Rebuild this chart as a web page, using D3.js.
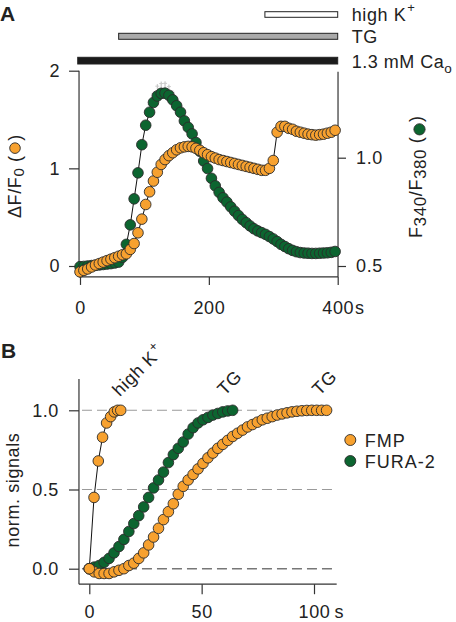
<!DOCTYPE html>
<html><head><meta charset="utf-8">
<script src="https://cdn.jsdelivr.net/npm/d3@7/dist/d3.min.js"></script>
<style>
html,body{margin:0;padding:0;background:#fff;}
svg{display:block;font-family:"Liberation Sans",Arial,Helvetica,sans-serif;}
text{fill:#222;}
</style></head>
<body>
<svg id="chart" width="456" height="622"></svg>
<script>
// ---------- Panel A data ----------
const timeA = [0,6,12,18,24,30,36,42,48,54,60,66,72,78,84,90,96,102,108,114,120,126,132,138,144,150,156,162,168,174,180,186,192,198,204,210,216,222,228,234,240,246,252,258,264,270,276,282,288,294,300,306,312,318,324,330,336,342,348,354,360,366,372,378,384,390,396];
const fmpA = [-0.06,-0.045,-0.03,-0.01,0.01,0.025,0.04,0.055,0.07,0.085,
  0.10,0.115,0.125,0.17,0.23,0.34,0.48,0.63,0.76,0.87,
  0.96,1.04,1.09,1.13,1.16,1.19,1.21,1.22,1.225,1.22,
  1.205,1.185,1.16,1.14,1.12,1.105,1.09,1.08,1.07,1.06,
  1.05,1.04,1.03,1.02,1.01,1.00,0.99,0.98,0.98,1.00,
  1.08,1.37,1.43,1.43,1.41,1.40,1.38,1.37,1.36,1.35,
  1.345,1.34,1.345,1.35,1.36,1.37,1.39];
const furaA = [0.497,0.498,0.500,0.502,0.503,0.505,0.507,0.509,0.511,0.514,
  0.518,0.54,0.60,0.69,0.81,0.93,1.06,1.15,1.21,1.255,
  1.285,1.297,1.298,1.288,1.267,1.24,1.21,1.17,1.14,1.11,
  1.07,1.03,0.985,0.95,0.905,0.87,0.84,0.815,0.795,0.773,
  0.753,0.733,0.715,0.70,0.685,0.672,0.662,0.654,0.646,0.636,
  0.625,0.613,0.60,0.59,0.58,0.572,0.566,0.562,0.56,0.559,
  0.558,0.558,0.559,0.56,0.561,0.563,0.567];
const furaErrT = [108,114,120,126,132,138,144,150];
const furaErrV = [0.02,0.025,0.03,0.03,0.03,0.025,0.02,0.015];
const ticksAx = [0,200,400];
const ticksAL = [0,1,2];
const ticksAR = [0.5,1.0];
const barLabels = ["high K", "TG", "1.3 mM Ca"];
const barStart = [287, 60, -3.5];
const barEnd = [400, 400, 400];

// ---------- Panel B data ----------
const hkT = [0,2.1,4.0,5.9,7.7,9.5,11.1,12.6,14.0];
const hkV = [0.0,0.45,0.68,0.83,0.92,0.96,0.99,1.0,1.0];
const fmpT = [0,2.2,4.4,6.6,8.8,11,13.2,15.4,17.6,19.8,22,24.2,26.4,28.6,30.8,33,35.2,37.4,39.6,41.8,44,46.2,48.4,50.6,52.8,55,57.2,59.4,61.6,63.8,66,68.2,70.4,72.6,74.8,77,79.2,81.4,83.6,85.8,88,90.2,92.4,94.6,96.8,99,101.2,103.4,105.6];
const fmpB = [0.0,-0.02,-0.03,-0.03,-0.03,-0.02,-0.01,0.0,0.02,0.035,
  0.065,0.10,0.15,0.20,0.255,0.31,0.36,0.41,0.47,0.52,
  0.56,0.595,0.63,0.665,0.70,0.73,0.76,0.785,0.81,0.835,
  0.855,0.875,0.895,0.91,0.925,0.94,0.95,0.96,0.97,0.977,
  0.984,0.99,0.994,0.997,0.999,1.0,1.0,1.0,1.0];
const furaT = [0,2.2,4.4,6.6,8.8,11,13.2,15.4,17.6,19.8,22,24.2,26.4,28.6,30.8,33,35.2,37.4,39.6,41.8,44,46.2,48.4,50.6,52.8,55,57.2,59.4,61.6,63.8];
const furaB = [0.0,0.01,0.02,0.04,0.065,0.10,0.14,0.185,0.235,0.285,
  0.335,0.39,0.45,0.51,0.56,0.61,0.67,0.72,0.76,0.80,
  0.85,0.89,0.92,0.94,0.955,0.97,0.98,0.99,0.996,1.0];
const ticksBx = [0,50,100];
const ticksBy = [0,0.5,1.0];
const legendLabels = ["FMP","FURA-2"];

// ---------- styling ----------
const ORANGE = "#F7A12F", GREEN = "#0C6530", STROKE = "#2b2b2b", AX = "#333";
const FS = 18, LS = 0.6, R = 5.3;

const svg = d3.select("#chart");

function styleText(sel, size){ return sel.attr("font-size", size||FS).attr("letter-spacing", LS).attr("fill","#222"); }

function dots(g, xs, ys, xScale, yScale, color, withLine){
  const pts = xs.map((x,i)=>[x, ys[i]]);
  if (withLine) {
    g.append("path").datum(pts)
      .attr("fill","none").attr("stroke","#111").attr("stroke-width",1)
      .attr("d", d3.line().x(d=>xScale(d[0])).y(d=>yScale(d[1])));
  }
  g.selectAll(null).data(pts).enter().append("circle")
    .attr("cx", d=>xScale(d[0])).attr("cy", d=>yScale(d[1])).attr("r", R)
    .attr("fill", color).attr("stroke", STROKE).attr("stroke-width", 0.9);
}

function styleAxis(g){
  g.select(".domain").remove();
  g.selectAll(".tick line").attr("stroke", AX).attr("stroke-width", 1.2);
  g.selectAll(".tick text").attr("font-size", FS).attr("letter-spacing", LS).attr("fill", "#222")
    .attr("font-family", '"Liberation Sans",Arial,sans-serif');
}
// append a unit to the last tick label while keeping the number centred on its tick
function addUnit(axisG, value, unit, gap){
  const t = axisG.selectAll(".tick").filter(d=>d===value).select("text");
  const w = t.node().getComputedTextLength();
  t.attr("text-anchor","start").attr("x", -w/2);
  t.append("tspan").attr("dx", gap).text(unit);
}

// ================= PANEL A =================
const xA = d3.scaleLinear().domain([0,400]).range([80,337.7]);
const yL = d3.scaleLinear().domain([0,2]).range([266,70.7]);
const yR = d3.scaleLinear().domain([0.5,1.0]).range([266,157.7]);
const gA = svg.append("g");

const axA_bottom = yL(-0.112), axA_left = xA(-1.5), axA_right = xA(400.5);
gA.append("line").attr("x1",axA_left).attr("x2",axA_left).attr("y1",yL(2)).attr("y2",axA_bottom).attr("stroke",AX).attr("stroke-width",1.2);
gA.append("line").attr("x1",axA_left).attr("x2",axA_right).attr("y1",axA_bottom).attr("y2",axA_bottom).attr("stroke",AX).attr("stroke-width",1.2);
gA.append("line").attr("x1",axA_right).attr("x2",axA_right).attr("y1",yR(1.397)).attr("y2",axA_bottom).attr("stroke",AX).attr("stroke-width",1.2);

const axL = gA.append("g").attr("transform",`translate(${axA_left},0)`)
  .call(d3.axisLeft(yL).tickValues(ticksAL).tickSize(10).tickPadding(9).tickFormat(d3.format("d")));
styleAxis(axL);
const axR = gA.append("g").attr("transform",`translate(${axA_right},0)`)
  .call(d3.axisRight(yR).tickValues(ticksAR).tickSize(8).tickPadding(10).tickFormat(d3.format(".1f")));
styleAxis(axR);
const axB = gA.append("g").attr("transform",`translate(0,${axA_bottom})`)
  .call(d3.axisBottom(xA).tickValues(ticksAx).tickSize(8).tickPadding(16).tickFormat(d3.format("d")));
styleAxis(axB);
addUnit(axB, 400, "s", 1);

// error whiskers at the FURA-2 peak
const errG = gA.append("g");
furaErrT.forEach((t,i)=>{
  const v = furaA[timeA.indexOf(t)];
  errG.append("line").attr("x1",xA(t)).attr("x2",xA(t)).attr("y1",yR(v)).attr("y2",yR(v+furaErrV[i])-R)
    .attr("stroke","#bbb").attr("stroke-width",1);
  errG.append("line").attr("x1",xA(t)-2).attr("x2",xA(t)+2).attr("y1",yR(v+furaErrV[i])-R+2).attr("y2",yR(v+furaErrV[i])-R+2)
    .attr("stroke","#ccc").attr("stroke-width",1);
});

dots(gA.append("g"), timeA, furaA, xA, yR, GREEN, true);
dots(gA.append("g"), timeA, fmpA, xA, yL, ORANGE, true);

// application bars
const barY = [11.7, 33.3, 57.3], barH = [5.6, 6, 6.7];
const barFill = ["#fff", "#aaa", "#1b1b1b"];
barLabels.forEach((lab,i)=>{
  gA.append("rect").attr("x", xA(barStart[i])).attr("y", barY[i])
    .attr("width", xA(barEnd[i]) - xA(barStart[i])).attr("height", barH[i])
    .attr("fill", barFill[i]).attr("stroke", "#222").attr("stroke-width", 1);
});
{
  const t1 = styleText(svg.append("text").attr("x",351.7).attr("y",20.7)); t1.text(barLabels[0]);
  t1.append("tspan").attr("font-size",13).attr("dy",-8.5).attr("dx",1).text("+");
  styleText(svg.append("text").attr("x",351.7).attr("y",43.4)).text(barLabels[1]);
  const t3 = styleText(svg.append("text").attr("x",351.7).attr("y",68.3)).attr("letter-spacing",0.5); t3.text(barLabels[2]);
  t3.append("tspan").attr("font-size",13.5).attr("dy",5).attr("letter-spacing",0).text("o");
}

// left axis label ΔF/F0 (●)
{
  const g = svg.append("g").attr("transform","translate(21,218) rotate(-90)");
  const t = styleText(g.append("text").attr("x",0).attr("y",0));
  t.append("tspan").text("\u0394F/F");
  t.append("tspan").attr("font-size",15).attr("dy",3).text("0");
  t.append("tspan").attr("dy",-3).text(" (");
  const L = t.node().getComputedTextLength();
  g.append("circle").attr("cx", L+2+R).attr("cy",-6).attr("r",R).attr("fill",ORANGE).attr("stroke",STROKE).attr("stroke-width",0.9);
  styleText(g.append("text").attr("x", L+2*R+4).attr("y",0)).text(")");
}
// right axis label F340/F380 (●)
{
  const g = svg.append("g").attr("transform","translate(421.5,238) rotate(-90)");
  const t = styleText(g.append("text").attr("x",0).attr("y",0));
  t.append("tspan").text("F");
  t.append("tspan").attr("font-size",17).attr("dy",4).text("340");
  t.append("tspan").attr("dy",-4).text("/F");
  t.append("tspan").attr("font-size",17).attr("dy",4).text("380");
  t.append("tspan").attr("dy",-4).text(" (");
  const L = t.node().getComputedTextLength();
  g.append("circle").attr("cx", L+2+R).attr("cy",-2).attr("r",R+0.3).attr("fill",GREEN).attr("stroke",STROKE).attr("stroke-width",0.9);
  styleText(g.append("text").attr("x", L+2*R+4).attr("y",0)).text(")");
}
svg.append("text").attr("x",0).attr("y",21).attr("font-size",21).attr("font-weight","bold").attr("fill","#111").text("A");

// ================= PANEL B =================
const xB = d3.scaleLinear().domain([0,100]).range([89.3,314]);
const yB = d3.scaleLinear().domain([0,1]).range([568.7,410.3]);
const gB = svg.append("g");
const axB_bottom = yB(-0.098), axB_left = xB(-4.6), axB_right = xB(110.1);

ticksBy.forEach(v=>{
  gB.append("line").attr("x1", axB_left+3).attr("x2", axB_right).attr("y1", yB(v)).attr("y2", yB(v))
    .attr("stroke", v===0 ? "#777" : "#9a9a9a").attr("stroke-width", v===0 ? 1.6 : 1.1)
    .attr("stroke-dasharray", "10,5");
});

gB.append("line").attr("x1",axB_left).attr("x2",axB_left).attr("y1",yB(1.198)).attr("y2",axB_bottom).attr("stroke",AX).attr("stroke-width",1.2);
gB.append("line").attr("x1",axB_left).attr("x2",axB_right).attr("y1",axB_bottom).attr("y2",axB_bottom).attr("stroke",AX).attr("stroke-width",1.2);
const bL = gB.append("g").attr("transform",`translate(${axB_left},0)`)
  .call(d3.axisLeft(yB).tickValues(ticksBy).tickSize(10).tickPadding(10).tickFormat(d3.format(".1f")));
styleAxis(bL);
const bB = gB.append("g").attr("transform",`translate(0,${axB_bottom})`)
  .call(d3.axisBottom(xB).tickValues(ticksBx).tickSize(10).tickPadding(11).tickFormat(d3.format("d")));
styleAxis(bB);
addUnit(bB, 100, "s", 4);

dots(gB.append("g"), furaT, furaB, xB, yB, GREEN, true);
dots(gB.append("g"), fmpT, fmpB, xB, yB, ORANGE, true);
dots(gB.append("g"), hkT, hkV, xB, yB, ORANGE, true);

function rotLabel(x, y, txt, sup){
  const t = styleText(svg.append("text").attr("transform",`translate(${x},${y}) rotate(-45)`));
  t.text(txt);
  if (sup) t.append("tspan").attr("font-size",13).attr("dy",-8).attr("dx",1).text(sup);
}
rotLabel(xB(hkT[hkT.length-1])-1, yB(1)-13, "high K", "+");
rotLabel(xB(furaT[furaT.length-1])-8, yB(1)-14, "TG");
rotLabel(xB(fmpT[fmpT.length-1])-7, yB(1)-14, "TG");

[ORANGE, GREEN].forEach((c,i)=>{
  svg.append("circle").attr("cx",350.3).attr("cy",440+21*i).attr("r",R+0.2).attr("fill",c).attr("stroke",STROKE).attr("stroke-width",0.9);
  styleText(svg.append("text").attr("x",364.7).attr("y",446.7+21*i)).attr("letter-spacing",1).text(legendLabels[i]);
});

{
  const g = svg.append("g").attr("transform","translate(18.5,490) rotate(-90)");
  styleText(g.append("text").attr("text-anchor","middle")).text("norm. signals");
}
svg.append("text").attr("x",1).attr("y",358).attr("font-size",21).attr("font-weight","bold").attr("fill","#111").text("B");
</script>
</body></html>
